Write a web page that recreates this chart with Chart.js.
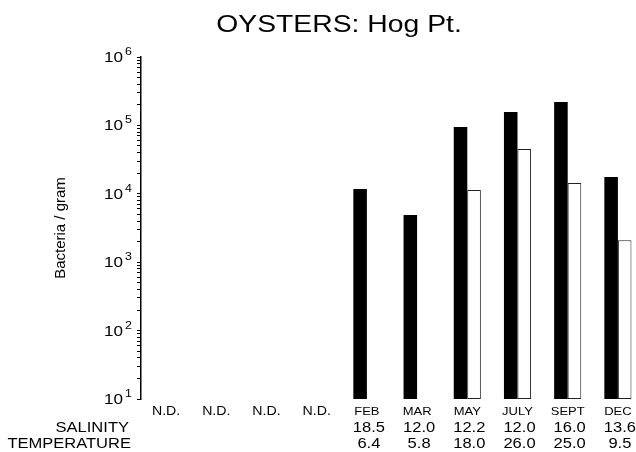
<!DOCTYPE html>
<html>
<head>
<meta charset="utf-8">
<script src="https://cdn.jsdelivr.net/npm/chart.js@4"></script>
<style>
  html, body { margin: 0; padding: 0; overflow: hidden; background: #fff; }
</style>
</head>
<body>
<canvas id="myChart" width="678" height="452"></canvas>
<script>
const TITLE = "OYSTERS: Hog Pt.";
const CATEGORIES = ["N.D.", "N.D.", "N.D.", "N.D.", "FEB", "MAR", "MAY", "JULY", "SEPT", "DEC"];
const SOLID_VALUES = [null, null, null, null, 11800, 4900, 95000, 157000, 220000, 17600];
const OPEN_VALUES = [null, null, null, null, null, null, 11400, 45000, 14400, 2100];
const SALINITY = ["", "", "", "", "18.5", "12.0", "12.2", "12.0", "16.0", "13.6"];
const TEMPERATURE = ["", "", "", "", "6.4", "5.8", "18.0", "26.0", "25.0", "9.5"];
const ROW_LABELS = ["SALINITY", "TEMPERATURE"];
const Y_EXPONENTS = [1, 2, 3, 4, 5, 6];

const FONT = '"Liberation Sans", Arial, sans-serif';
// the scanned figure is a bit wider than plain Helvetica
const STRETCH = 1.18;

function drawStretched(ctx, text, x, y, font, align) {
  if (!text) return;
  ctx.save();
  ctx.font = font;
  ctx.textAlign = align;
  ctx.textBaseline = "alphabetic";
  ctx.fillStyle = "#000";
  ctx.translate(x, y);
  ctx.scale(STRETCH, 1);
  ctx.fillText(text, 0, 0);
  ctx.restore();
}

function logTicks() {
  let values = [];
  for (let i = 0; i < Y_EXPONENTS.length - 1; i++) {
    for (let m = 1; m < 10; m++) {
      values.push({ value: m * Math.pow(10, Y_EXPONENTS[i]) });
    }
  }
  values.push({ value: Math.pow(10, Y_EXPONENTS[Y_EXPONENTS.length - 1]) });
  return values;
}

const figureText = {
  id: "figureText",
  afterDraw(chart) {
    const c = chart.ctx;
    const area = chart.chartArea;
    const xScale = chart.scales.x;
    const yScale = chart.scales.y;

    drawStretched(c, TITLE, chart.width / 2, 32, "24px " + FONT, "center");

    Y_EXPONENTS.forEach((exp) => {
      const py = yScale.getPixelForValue(Math.pow(10, exp));
      drawStretched(c, "10", area.left - 18, py + 5, "14.5px " + FONT, "right");
      drawStretched(c, String(exp), area.left - 16, py - 2, "10.5px " + FONT, "left");
    });

    CATEGORIES.forEach((label, i) => {
      const px = xScale.getPixelForValue(i);
      const font = label === "N.D." ? "12px " + FONT : "11px " + FONT;
      drawStretched(c, label, px, area.bottom + 16, font, "center");
      drawStretched(c, SALINITY[i], px + 2, area.bottom + 33, "14px " + FONT, "center");
      drawStretched(c, TEMPERATURE[i], px + 2, area.bottom + 49, "14px " + FONT, "center");
    });

    drawStretched(c, ROW_LABELS[0], 129, area.bottom + 33, "14px " + FONT, "right");
    drawStretched(c, ROW_LABELS[1], 131, area.bottom + 49, "14px " + FONT, "right");
  },
};

const ctx = document.getElementById("myChart").getContext("2d");

new Chart(ctx, {
  type: "bar",
  data: {
    labels: CATEGORIES,
    datasets: [
      {
        label: "solid",
        data: SOLID_VALUES,
        backgroundColor: "#000",
        borderWidth: 0,
      },
      {
        label: "open",
        data: OPEN_VALUES,
        backgroundColor: "#fff",
        borderColor: "#222",
        borderWidth: 1,
        borderSkipped: false,
      },
    ],
  },
  options: {
    responsive: false,
    animation: false,
    categoryPercentage: 0.54,
    barPercentage: 1,
    layout: {
      padding: { top: 57, bottom: 53, left: 0, right: 35 },
    },
    scales: {
      x: {
        display: false,
      },
      y: {
        type: "logarithmic",
        min: 10,
        max: 1000000,
        afterFit: function (scale) {
          scale.width = 141;
        },
        afterBuildTicks: function (scale) {
          scale.ticks = logTicks();
        },
        ticks: {
          autoSkip: false,
          padding: 0,
          callback: function () {
            return "";
          },
        },
        grid: {
          drawOnChartArea: false,
          drawTicks: true,
          tickLength: 4,
          color: "#000",
          tickColor: "#000",
        },
        border: {
          display: true,
          color: "#000",
          width: 1.5,
        },
        title: {
          display: true,
          text: "Bacteria / gram",
          color: "#000",
          padding: { top: 52, bottom: 0 },
          font: {
            family: FONT,
            size: 15,
          },
        },
      },
    },
    plugins: {
      legend: { display: false },
      tooltip: { enabled: false },
    },
  },
  plugins: [figureText],
});
</script>
</body>
</html>
